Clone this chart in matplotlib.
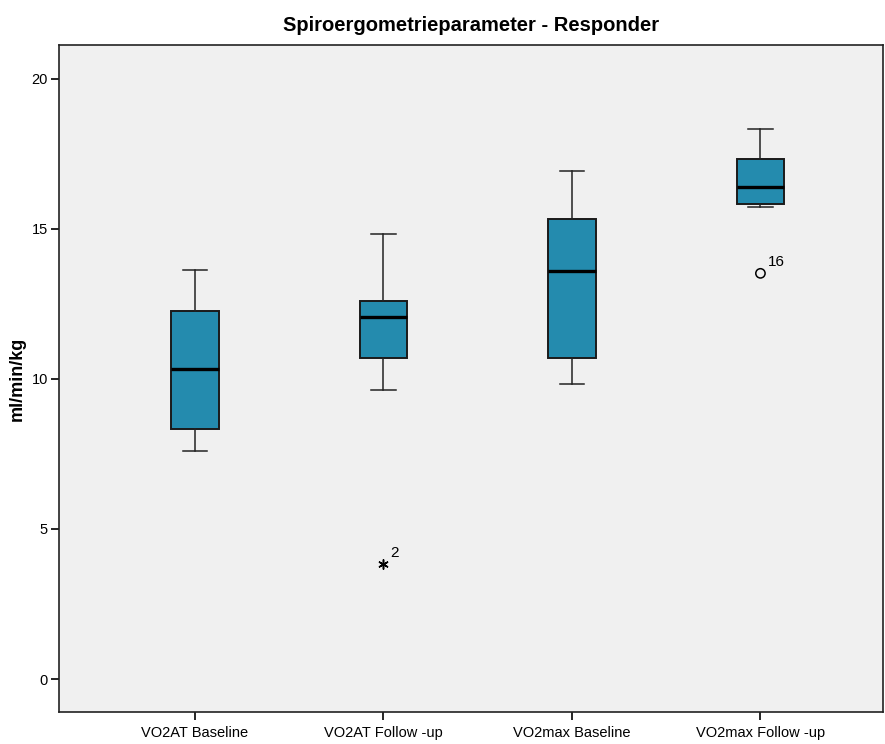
import matplotlib
matplotlib.use("Agg")
import matplotlib.pyplot as plt

# --- data ---
labels = ["VO2AT Baseline", "VO2AT Follow -up", "VO2max Baseline", "VO2max Follow -up"]
whis_lo = [7.61, 9.63, 9.83, 15.74]
q1 = [8.32, 10.70, 10.70, 15.82]
med = [10.33, 12.07, 13.60, 16.39]
q3 = [12.28, 12.60, 15.33, 17.33]
whis_hi = [13.62, 14.83, 16.93, 18.33]

# outliers: box index, value, case label, marker kind
out_box = [2, 4]
out_val = [3.83, 13.52]
out_case = ["2", "16"]
out_extreme = [True, False]

plt.rcParams["font.family"] = ["Liberation Sans", "DejaVu Sans"]

fig = plt.figure(figsize=(8.85, 7.44), dpi=100)
ax = fig.add_axes([0.0667, 0.043, 0.931, 0.8965])
ax.set_facecolor("#f0f0f0")

stats = []
for i in range(len(labels)):
    stats.append({"whislo": whis_lo[i], "q1": q1[i], "med": med[i],
                  "q3": q3[i], "whishi": whis_hi[i], "fliers": []})

positions = list(range(1, len(labels) + 1))
ax.bxp(stats, positions=positions, widths=0.25, patch_artist=True,
       showfliers=False,
       boxprops=dict(facecolor="#248bae", edgecolor="#1a1a1a", linewidth=1.4),
       medianprops=dict(color="black", linewidth=2.4),
       whiskerprops=dict(color="#222222", linewidth=1.1),
       capprops=dict(color="#222222", linewidth=1.1),
       capwidths=0.13)

for b, v, c, ext in zip(out_box, out_val, out_case, out_extreme):
    if ext:
        ax.scatter(b, v, marker=(6, 2, 0), s=45, color="black", linewidths=1.1, zorder=3)
    else:
        ax.scatter(b, v, marker="o", s=45, facecolor="none", edgecolor="black",
                   linewidths=1.1, zorder=3)
    ax.annotate(c, (b, v), xytext=(5, 3), textcoords="offset points",
                fontsize=11, ha="left", va="bottom")

ax.set_xlim(0.279, 4.65)
ax.set_ylim(-1.1, 21.13)
ax.set_yticks([0, 5, 10, 15, 20])
ax.set_xticks(positions)
ax.set_xticklabels(labels)
ax.tick_params(axis="both", direction="out", length=6, width=1.2, labelsize=10.5)
ax.tick_params(axis="x", pad=4)
ax.tick_params(axis="y", pad=2)
for s in ax.spines.values():
    s.set_linewidth(1.2)
    s.set_color("#222222")

ax.set_ylabel("ml/min/kg", fontsize=13, fontweight="bold", labelpad=4)
ax.set_title("Spiroergometrieparameter - Responder", fontsize=14.5, fontweight="bold", pad=10)

fig.savefig("out.png", dpi=100, facecolor="white")
